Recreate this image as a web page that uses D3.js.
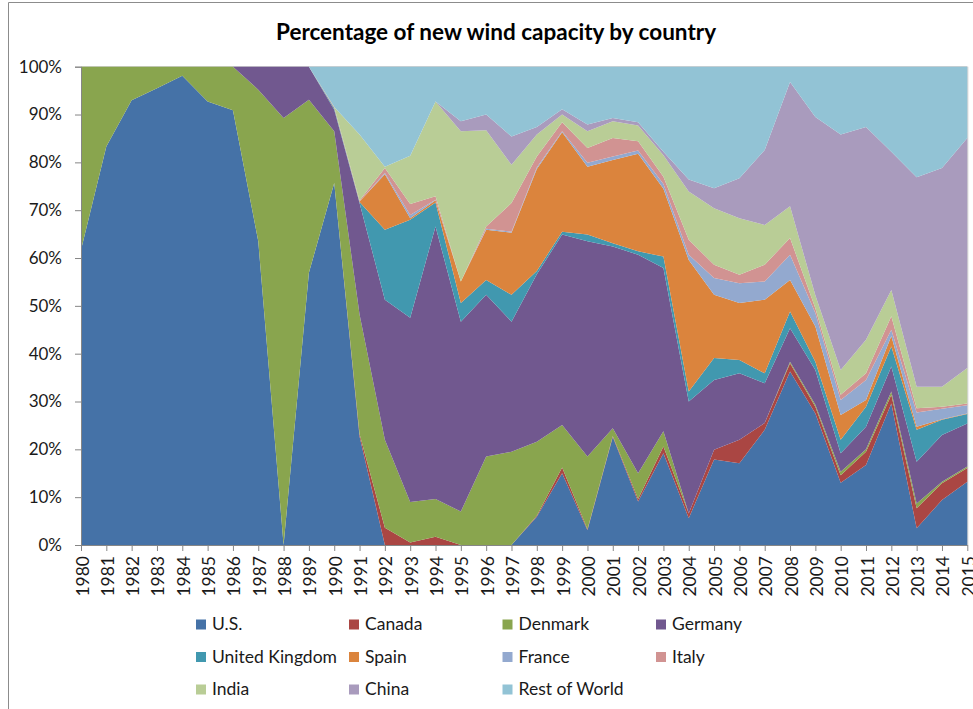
<!DOCTYPE html>
<html>
<head>
<meta charset="utf-8">
<script src="https://cdn.jsdelivr.net/npm/d3@7"></script>
<style>
  html, body { margin: 0; padding: 0; background: #ffffff; }
  svg { display: block; font-family: Lato, "Open Sans", "Liberation Sans", sans-serif; }
</style>
</head>
<body>
<svg id="chart" width="973" height="709"></svg>
<script>
// Years on the category axis
const years = ["1980","1981","1982","1983","1984","1985","1986","1987","1988","1989",
  "1990","1991","1992","1993","1994","1995","1996","1997","1998","1999",
  "2000","2001","2002","2003","2004","2005","2006","2007","2008","2009",
  "2010","2011","2012","2013","2014","2015"];

// Share of new wind capacity (%) per country, one value per year
const us =       [61.7, 83.3, 93, 95.5, 98.1, 92.7, 90.9, 63.5, 0, 56.9, 75.7, 22.7, 0, 0, 0, 0, 0, 0, 5.9, 15, 3.1, 22.6, 9.1, 19.2, 5.6, 17.9, 17.1, 24.1, 36.3, 27.5, 13, 16.7, 29.6, 3.5, 9.4, 13.2];
const canada =   [0, 0, 0, 0, 0, 0, 0, 0, 0, 0, 0, 0.5, 3.6, 0.5, 1.7, 0, 0, 0, 0.2, 1.2, 0.2, 0.2, 0.5, 1.4, 1, 2, 4.9, 1.4, 1.7, 1.4, 1.6, 2.8, 1.8, 4.2, 3.5, 2.9];
const denmark =  [38.3, 16.7, 7, 4.5, 1.9, 7.3, 9.1, 31.7, 89.3, 36.2, 10.8, 25, 18.4, 8.5, 7.9, 7, 18.5, 19.5, 15.5, 8.9, 15.2, 1.6, 5.4, 3.2, 0, 0, 0, 0, 0.3, 0.4, 0.7, 0.5, 0.7, 1, 0.3, 0.3];
const germany =  [0, 0, 0, 0, 0, 0, 0, 4.8, 10.7, 6.9, 4.5, 23.3, 29.3, 38.5, 57, 39.7, 33.8, 27.2, 35, 39.8, 45, 38, 45.7, 34.1, 23.4, 14.6, 13.9, 8.3, 7, 7.3, 3.9, 4.7, 5.2, 8.7, 9.8, 9];
const uk =       [0, 0, 0, 0, 0, 0, 0, 0, 0, 0, 0.3, 0.2, 14.6, 20.5, 5, 3.9, 3.1, 5.6, 0.7, 0.6, 1.4, 0.7, 0.7, 2.4, 2.1, 4.6, 2.8, 2.1, 3.5, 1.7, 2.8, 4.2, 4.2, 6.7, 3.2, 2];
const spain =    [0, 0, 0, 0, 0, 0, 0, 0, 0, 0, 0.1, 0.1, 11.6, 0.3, 0.5, 4.5, 10.5, 13, 21.3, 20.8, 14.2, 17.4, 20.4, 14.2, 27.5, 13.2, 11.9, 15.4, 6.6, 7.4, 5.2, 1.4, 2.2, 0.6, 0.1, 0.1];
const france =   [0, 0, 0, 0, 0, 0, 0, 0, 0, 0, 0, 0, 0.3, 0.7, 0.1, 0, 0.2, 0.2, 0.3, 0.2, 0.8, 0.7, 0.7, 1, 1.1, 3.5, 4.1, 3.8, 5.3, 2.8, 3.1, 4.2, 1.3, 3, 2.2, 1.7];
const italy =    [0, 0, 0, 0, 0, 0, 0, 0, 0, 0, 0.2, 0.2, 1, 2.3, 0.7, 0, 0.5, 6, 2.3, 1.9, 3.1, 3.9, 1.9, 1.5, 3.1, 2.8, 1.8, 3.5, 3.5, 1, 1.1, 1.4, 2.8, 0.9, 0.4, 0.4];
const india =    [0, 0, 0, 0, 0, 0, 0, 0, 0, 0, 0, 13.8, 0.3, 10.1, 19.8, 31.4, 20.1, 8, 4.6, 1.6, 3.5, 3.5, 3.3, 4.5, 10.1, 11.8, 11.8, 8.3, 6.6, 2.7, 5.2, 7, 5.5, 4.5, 4.2, 7.4];
const china =    [0, 0, 0, 0, 0, 0, 0, 0, 0, 0, 0, 0, 0, 0, 0, 2.1, 3.3, 5.9, 1.6, 1.1, 1.4, 0.7, 0.7, 0.7, 2.5, 4.2, 8.4, 15.7, 26, 37.3, 49.2, 44.5, 28.9, 43.8, 45.7, 48.1];
const restOfWorld = [0, 0, 0, 0, 0, 0, 0, 0, 0, 0, 8.4, 14.2, 20.9, 18.6, 7.3, 11.4, 10, 14.6, 12.6, 8.9, 12.1, 10.7, 11.6, 17.8, 23.6, 25.4, 23.3, 17.4, 3.2, 10.5, 14.2, 12.6, 17.8, 23.1, 21.2, 14.9];

const seriesNames = ["U.S.", "Canada", "Denmark", "Germany", "United Kingdom", "Spain",
  "France", "Italy", "India", "China", "Rest of World"];
const seriesValues = [us, canada, denmark, germany, uk, spain, france, italy, india, china, restOfWorld];
const seriesColors = ["#4572a7", "#aa4643", "#89a54e", "#71588f", "#4198af", "#db843d",
  "#93a9cf", "#d19392", "#b9cd96", "#a99bbd", "#92c3d5"];
const yTicks = [0, 10, 20, 30, 40, 50, 60, 70, 80, 90, 100];

// Table of rows, one per year, keyed by series name
const rows = years.map((yr, i) => {
  const r = { year: yr };
  seriesNames.forEach((n, k) => { r[n] = seriesValues[k][i]; });
  return r;
});

const svg = d3.select("#chart");
const plot = { left: 81, right: 967.3, top: 66.7, bottom: 545 };

const x = d3.scalePoint().domain(years).range([plot.left, plot.right]);
const y = d3.scaleLinear().domain([0, 100]).range([plot.bottom, plot.top]);

// Chart frame
svg.append("line").attr("x1", 8.5).attr("x2", 8.5).attr("y1", 2.5).attr("y2", 709)
  .attr("stroke", "#8c8c8c").attr("stroke-width", 1);
svg.append("line").attr("x1", 8.5).attr("x2", 973).attr("y1", 2.5).attr("y2", 2.5)
  .attr("stroke", "#8c8c8c").attr("stroke-width", 1);

// Title
svg.append("text")
  .attr("x", 496).attr("y", 40)
  .attr("text-anchor", "middle")
  .attr("font-size", 22.5).attr("font-weight", "bold").attr("fill", "#000")
  .text("Percentage of new wind capacity by country");

// Gridline at the top of the plot and right edge
svg.append("line").attr("x1", plot.left).attr("x2", plot.right)
  .attr("y1", y(100)).attr("y2", y(100)).attr("stroke", "#c8c8c8");
svg.append("line").attr("x1", plot.right + 0.5).attr("x2", plot.right + 0.5)
  .attr("y1", y(100)).attr("y2", y(0)).attr("stroke", "#c8c8c8");

// Stacked areas
const stack = d3.stack().keys(seriesNames).order(d3.stackOrderNone).offset(d3.stackOffsetNone);
const layers = stack(rows);
const area = d3.area()
  .x(d => x(d.data.year))
  .y0(d => y(d[0]))
  .y1(d => y(d[1]))
  .curve(d3.curveLinear);

svg.append("g").selectAll("path")
  .data(layers)
  .join("path")
  .attr("d", area)
  .attr("fill", (d, i) => seriesColors[i]);

// Y axis
const yAxis = svg.append("g")
  .attr("transform", `translate(${plot.left},0)`)
  .call(d3.axisLeft(y).tickValues(yTicks).tickFormat(d => d + "%").tickSize(6).tickPadding(13));
yAxis.select(".domain").attr("stroke", "#868686");
yAxis.selectAll(".tick line").attr("stroke", "#868686");
yAxis.selectAll(".tick text").attr("font-size", 17).attr("fill", "#1a1a1a")
  .attr("font-family", "Lato, 'Open Sans', sans-serif");

// X axis
const xAxis = svg.append("g")
  .attr("transform", `translate(0,${plot.bottom})`)
  .call(d3.axisBottom(x).tickSize(6).tickSizeOuter(0));
xAxis.select(".domain").attr("stroke", "#868686");
xAxis.selectAll(".tick line").attr("stroke", "#868686");
xAxis.selectAll(".tick text")
  .attr("font-size", 17.5).attr("fill", "#1a1a1a")
  .attr("font-family", "Lato, 'Open Sans', sans-serif")
  .attr("text-anchor", "end")
  .attr("transform", "rotate(-90)")
  .attr("x", -11).attr("y", 0).attr("dy", "0.4em");

// Legend: four columns, three rows
const legendCols = [196, 349, 502.5, 656];
const legendRows = [619.5, 652, 684.5];
const legend = svg.append("g");
seriesNames.forEach((name, i) => {
  const cx = legendCols[i % 4];
  const cy = legendRows[Math.floor(i / 4)];
  legend.append("rect")
    .attr("x", cx).attr("y", cy).attr("width", 10).attr("height", 10)
    .attr("fill", seriesColors[i]);
  legend.append("text")
    .attr("x", cx + 16).attr("y", cy + 10.5)
    .attr("font-size", 17.5).attr("fill", "#1a1a1a")
    .text(name);
});
</script>
</body>
</html>
